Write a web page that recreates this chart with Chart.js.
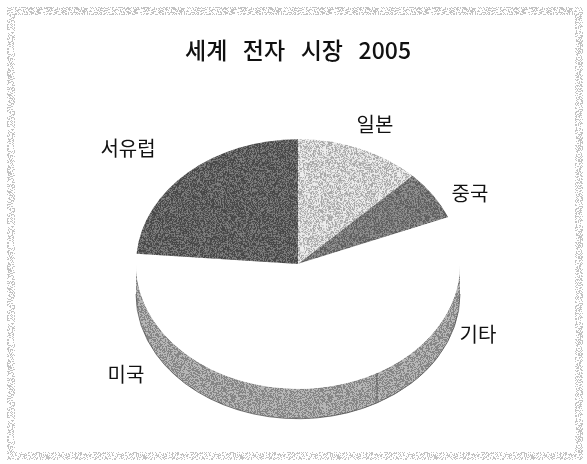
<!DOCTYPE html>
<html lang="ko">
<head>
<meta charset="utf-8">
<title>세계 전자 시장 2005</title>
<script src="https://cdn.jsdelivr.net/npm/chart.js@4/dist/chart.umd.min.js"></script>
<style>
    html, body { margin: 0; padding: 0; background: #fff; }
    canvas { display: block; }
</style>
</head>
<body>
<canvas id="marketChart" width="587" height="464"></canvas>
<script>
const categories = ['일본', '중국', '기타', '미국', '서유럽'];
const shares = [12.5, 6.4, 23, 34.4, 23.7];

const chartTitle = '세계   전자   시장   2005';
const fontFamily = '"Noto Sans CJK KR", "Noto Sans", sans-serif';

// tilt of the pie and height of its side wall
const squash = 0.77;
const wallDepth = 30;

// where each category name sits on the page
const labelSpots = [[375, 124], [470, 193], [478, 334], [126, 374], [128, 148]];

// scanned-print look: a small tile of two-tone grain, same tile on every run
function grain(dark, light, amount) {
    const tile = document.createElement('canvas');
    tile.width = 97;
    tile.height = 97;
    const g = tile.getContext('2d');
    g.fillStyle = light;
    g.fillRect(0, 0, 97, 97);
    g.fillStyle = dark;
    let seed = 7;
    for (let y = 0; y < 97; y++) {
        for (let x = 0; x < 97; x++) {
            seed = (seed * 1103515245 + 12345) % 2147483648;
            if ((seed >> 8) % 100 < amount) {
                g.fillRect(x, y, 1, 1);
            }
        }
    }
    return document.getElementById('marketChart').getContext('2d').createPattern(tile, 'repeat');
}

const sliceFills = [
    grain('#a8a8a8', '#ececec', 45),
    grain('#5e5e5e', '#909090', 50),
    '#ffffff',
    '#ffffff',
    grain('#474747', '#7e7e7e', 55)
];
const wallFill = grain('#858585', '#b6b6b6', 50);
const frameFill = grain('#c2c2c2', '#ffffff', 40);

const framePlugin = {
    id: 'frame',
    beforeDraw(chart) {
        const { ctx, width, height } = chart;
        ctx.save();
        ctx.fillStyle = frameFill;
        ctx.beginPath();
        ctx.rect(7, 7, width - 11, height - 11);
        ctx.rect(15, 15, width - 27, height - 27);
        ctx.fill('evenodd');
        ctx.restore();
    }
};

// Chart.js only does flat circles, so squash the slices and add the wall underneath
const tiltPlugin = {
    id: 'tilt',
    beforeDatasetsDraw(chart) {
        const { ctx } = chart;
        const arcs = chart.getDatasetMeta(0).data;
        const cx = arcs[0].x;
        const cy = arcs[0].y;
        const rx = arcs[0].outerRadius;
        const ry = rx * squash;

        ctx.save();
        arcs.forEach(arc => {
            const from = Math.max(arc.startAngle, 0);
            const to = Math.min(arc.endAngle, Math.PI);
            if (to <= from) return;
            ctx.beginPath();
            ctx.ellipse(cx, cy, rx, ry, 0, from, to);
            ctx.ellipse(cx, cy + wallDepth, rx, ry, 0, to, from, true);
            ctx.closePath();
            ctx.fillStyle = wallFill;
            ctx.fill();

            // only the lower rim and the seam between slices get a line
            ctx.strokeStyle = 'rgba(50, 50, 50, 0.6)';
            ctx.lineWidth = 1;
            ctx.beginPath();
            ctx.ellipse(cx, cy + wallDepth, rx, ry, 0, from, to);
            if (from > 0) {
                ctx.moveTo(cx + rx * Math.cos(from), cy + ry * Math.sin(from));
                ctx.lineTo(cx + rx * Math.cos(from), cy + ry * Math.sin(from) + wallDepth);
            }
            ctx.stroke();
        });
        ctx.restore();

        ctx.save();
        ctx.translate(cx, cy);
        ctx.scale(1, squash);
        ctx.translate(-cx, -cy);
    },
    afterDatasetsDraw(chart) {
        chart.ctx.restore();
    }
};

const labelPlugin = {
    id: 'sliceLabels',
    afterDraw(chart) {
        const { ctx } = chart;
        ctx.save();
        ctx.font = '20px ' + fontFamily;
        ctx.fillStyle = '#111';
        ctx.textAlign = 'center';
        ctx.textBaseline = 'middle';
        categories.forEach((name, i) => {
            ctx.fillText(name, labelSpots[i][0], labelSpots[i][1]);
        });
        ctx.restore();
    }
};

new Chart(document.getElementById('marketChart'), {
    type: 'pie',
    data: {
        labels: categories,
        datasets: [{
            data: shares,
            backgroundColor: sliceFills,
            borderWidth: 0
        }]
    },
    options: {
        responsive: false,
        animation: false,
        layout: { padding: { left: 136, right: 127, top: 20, bottom: 38 } },
        plugins: {
            legend: { display: false },
            tooltip: { enabled: false },
            title: {
                display: true,
                text: chartTitle,
                color: '#111',
                font: { family: fontFamily, size: 23, weight: '500' },
                padding: { top: 16, bottom: 38.4 }
            }
        }
    },
    plugins: [framePlugin, tiltPlugin, labelPlugin]
});
</script>
</body>
</html>
